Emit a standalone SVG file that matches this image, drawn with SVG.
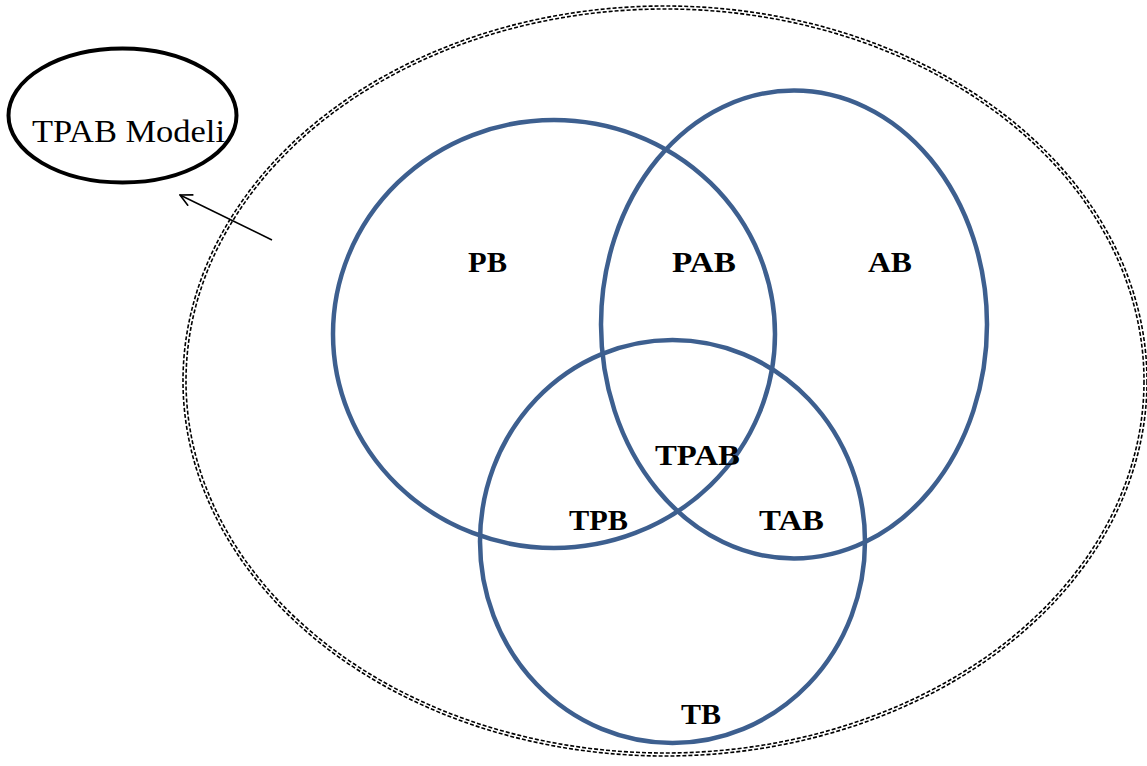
<svg xmlns="http://www.w3.org/2000/svg" width="1147" height="766" viewBox="0 0 1147 766">
  <style>
    .set { fill: none; stroke: #3d5f8f; stroke-width: 4.5; }
    .frame { fill: none; stroke: #000; stroke-width: 1.6; stroke-dasharray: 4 2; }
    .lbl { font-family: "Liberation Serif", "DejaVu Serif", serif; font-weight: bold; font-size: 29px; fill: #000; }
  </style>
  <defs>
    <marker id="open-arrow" viewBox="0 0 14 14" refX="13" refY="7" markerWidth="14" markerHeight="14" markerUnits="userSpaceOnUse" orient="auto">
      <path d="M1 1 L13 7 L1 13" fill="none" stroke="#000" stroke-width="1.6"/>
    </marker>
  </defs>
  <rect width="1147" height="766" fill="#fff"/>

  <!-- outer double dashed boundary -->
  <g id="boundary">
    <ellipse class="frame" cx="665" cy="381" rx="482" ry="375"/>
    <ellipse class="frame" cx="665" cy="381" rx="479" ry="372"/>
  </g>

  <!-- model label -->
  <g id="model">
    <ellipse cx="122.5" cy="115.5" rx="114" ry="67" fill="none" stroke="#000" stroke-width="4"/>
    <text x="32" y="142" font-family="Liberation Serif, DejaVu Serif, serif" font-size="31" textLength="193" lengthAdjust="spacingAndGlyphs">TPAB Modeli</text>
  </g>

  <!-- three overlapping sets -->
  <g id="set-pb"><ellipse class="set" cx="554" cy="334" rx="221" ry="214"/></g>
  <g id="set-ab"><ellipse class="set" cx="794" cy="324.5" rx="193" ry="234"/></g>
  <g id="set-tb"><ellipse class="set" cx="672.5" cy="541.5" rx="192.5" ry="201.5"/></g>

  <!-- region labels -->
  <g id="labels">
    <text class="lbl" x="468" y="272" textLength="39" lengthAdjust="spacingAndGlyphs">PB</text>
    <text class="lbl" x="672" y="272" textLength="64" lengthAdjust="spacingAndGlyphs">PAB</text>
    <text class="lbl" x="868" y="272" textLength="44" lengthAdjust="spacingAndGlyphs">AB</text>
    <text class="lbl" x="655" y="465" textLength="85" lengthAdjust="spacingAndGlyphs">TPAB</text>
    <text class="lbl" x="569" y="530" textLength="59" lengthAdjust="spacingAndGlyphs">TPB</text>
    <text class="lbl" x="759" y="530" textLength="65" lengthAdjust="spacingAndGlyphs">TAB</text>
    <text class="lbl" x="681" y="724" textLength="40" lengthAdjust="spacingAndGlyphs">TB</text>
  </g>

  <!-- connector -->
  <g id="connectors">
    <line x1="272" y1="240" x2="180" y2="195" stroke="#000" stroke-width="1.5" marker-end="url(#open-arrow)"/>
  </g>
</svg>
